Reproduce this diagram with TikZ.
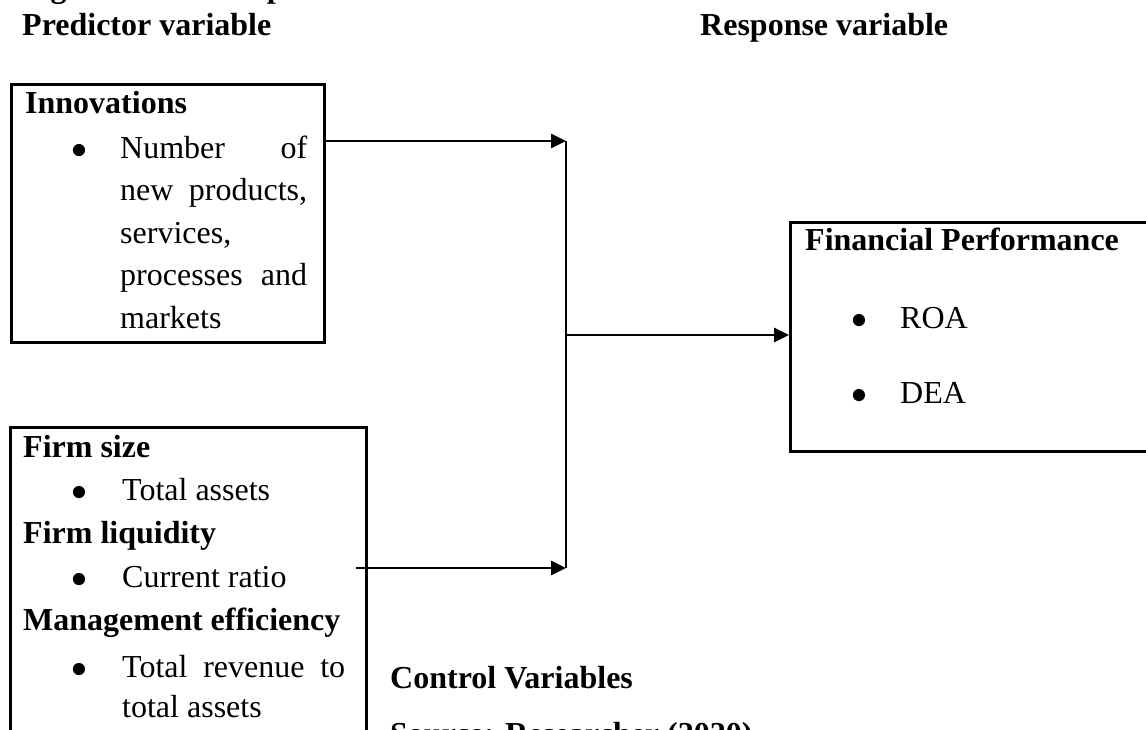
\documentclass[tikz,border=0pt]{standalone}
\usepackage{fontspec}
\usepackage{graphicx}
\setmainfont{Liberation Serif}
\usetikzlibrary{arrows.meta}
\newcommand{\bigbul}{\raisebox{-9pt}{\scalebox{1.6}{•}}}
\begin{document}
\begin{tikzpicture}[x=1pt,y=-1pt,
  txt/.style={anchor=base west, inner sep=0pt, font=\fontsize{32}{38}\selectfont},
  hd/.style={anchor=base west, inner sep=0pt, font=\fontsize{32}{38}\selectfont\bfseries},
  bul/.style={anchor=base west, inner sep=0pt, font=\fontsize{32}{38}\selectfont},
  boxn/.style={draw, line width=2.6pt, anchor=north west, inner sep=0pt},
  conn/.style={line width=2.7pt},
  arr/.style={conn, -{Triangle[length=15pt,width=14pt]}},
]
\useasboundingbox (0,0) rectangle (1146,729);
\clip (0,0) rectangle (1146,729);
% headings
\node[hd] (fig) at (22,-2.5) {Figure 2.1: Conceptual Framework};
\node[hd] (pred) at (22,35) {Predictor variable};
\node[hd] (resp) at (700,35) {Response variable};
% innovations box
\node[boxn, minimum width=313pt, minimum height=258pt] (innov) at (10,83) {};
\node[hd] (t1) at (25,113) {Innovations};
\node[bul] (b1) at (70,158) {\bigbul};
\node[txt] (l1) at (120,158) {\makebox[187pt][s]{Number of}};
\node[txt] (l2) at (120,200.5) {\makebox[187pt][s]{new products,}};
\node[txt] (l3) at (120,243) {services,};
\node[txt] (l4) at (120,285.5) {\makebox[187pt][s]{processes and}};
\node[txt] (l5) at (120,328) {markets};
% control box
\node[boxn, minimum width=356pt, minimum height=340pt] (ctrl) at (9,426) {};
\node[hd] (c1) at (23,457) {Firm size};
\node[bul] (cb1) at (70,500) {\bigbul};
\node[txt] (c2) at (122,500) {Total assets};
\node[hd] (c3) at (23,543) {Firm liquidity};
\node[bul] (cb2) at (70,587) {\bigbul};
\node[txt] (c4) at (122,587) {Current ratio};
\node[hd] (c5) at (23,630) {Management efficiency};
\node[bul] (cb3) at (70,677) {\bigbul};
\node[txt] (c6) at (122,677) {\makebox[223pt][s]{Total revenue to}};
\node[txt] (c7) at (122,717) {total assets};
\node[hd] (cv) at (390,688) {Control Variables};
\node[hd] (src) at (390,744) {Source: Researcher (2020)};
% financial performance box
\node[boxn, minimum width=400pt, minimum height=229pt] (fin) at (789,221) {};
\node[hd] (f1) at (805,250) {Financial Performance};
\node[bul] (fb1) at (850,328) {\bigbul};
\node[txt] (f2) at (900,328) {ROA};
\node[bul] (fb2) at (850,403) {\bigbul};
\node[txt] (f3) at (900,403) {DEA};
% connectors
\coordinate (jTop) at (566,141);
\coordinate (jMid) at (566,335);
\coordinate (jBot) at (566,568);
\coordinate (sBot) at (356,568);
\draw[arr] (innov.north east |- jTop) -- (jTop);
\draw[line width=2.2pt] (jTop) -- (jBot);
\draw[arr] (jMid) -- (fin.west |- jMid);
\draw[arr] (sBot) -- (jBot);
\end{tikzpicture}
\end{document}
